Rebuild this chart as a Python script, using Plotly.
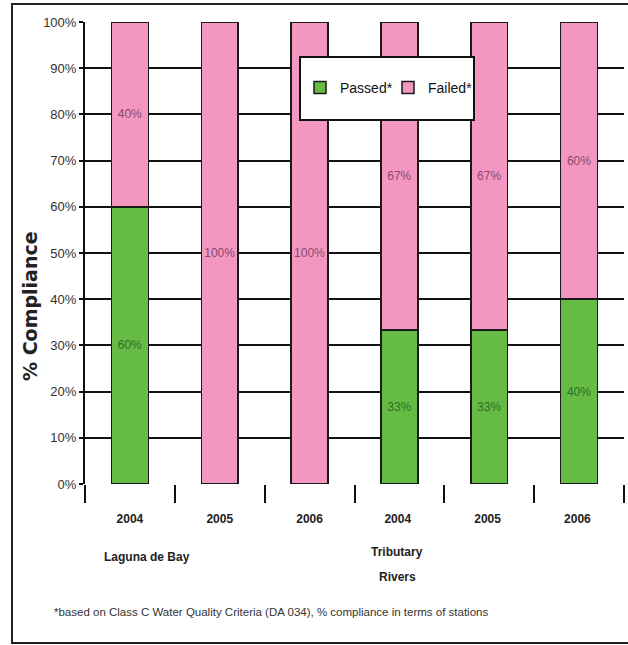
import plotly.graph_objects as go

categories = ["2004", "2005", "2006", "2004 ", "2005 ", "2006 "]
passed = [60, 0, 0, 33.3, 33.3, 40]
failed = [40, 100, 100, 66.7, 66.7, 60]
passed_labels = ["60%", "", "", "33%", "33%", "40%"]
failed_labels = ["40%", "100%", "100%", "67%", "67%", "60%"]
y_ticks = [0, 10, 20, 30, 40, 50, 60, 70, 80, 90, 100]
y_tick_labels = [f"{v}%" for v in y_ticks]

FONT = "Liberation Sans, Arial, sans-serif"

W, H = 628, 645
L, R, T, B = 85, 4, 22, 161
PW, PH = W - L - R, H - T - B


def px(x):
    return (x - L) / PW


def py(y):
    return (H - B - y) / PH


fig = go.Figure()
fig.add_trace(go.Bar(
    x=categories, y=passed, name="Passed*",
    marker=dict(color="#66BB44", line=dict(color="#1a1a1a", width=1.5)),
    text=passed_labels, textposition="inside", insidetextanchor="middle",
    constraintext="none", textangle=0,
    textfont=dict(family=FONT, size=12, color="#2f6e22"),
    width=0.41,
))
fig.add_trace(go.Bar(
    x=categories, y=failed, name="Failed*",
    marker=dict(color="#F497C0", line=dict(color="#1a1a1a", width=1.5)),
    text=failed_labels, textposition="inside", insidetextanchor="middle",
    constraintext="none", textangle=0,
    textfont=dict(family=FONT, size=12, color="#8a4a6e"),
    width=0.41,
))

fig.update_layout(
    barmode="stack",
    width=W, height=H,
    margin=dict(l=L, r=R, t=T, b=B),
    paper_bgcolor="white", plot_bgcolor="white",
    showlegend=True,
    legend=dict(orientation="h", x=px(300), y=py(88), xanchor="left", yanchor="middle",
                bgcolor="rgba(0,0,0,0)", font=dict(family=FONT, size=14, color="#111"),
                traceorder="normal", entrywidth=43, entrywidthmode="pixels"),
    xaxis=dict(
        type="category", tickson="boundaries", ticks="outside", ticklen=18, tickwidth=1.5,
        tickcolor="#111", showgrid=False, showline=False, zeroline=False,
        tickfont=dict(family=FONT, size=12, color="#222", weight="bold"),
        ticklabelstandoff=26,
    ),
    yaxis=dict(
        range=[0, 100], tickmode="array", tickvals=y_ticks, ticktext=y_tick_labels,
        ticks="outside", ticklen=4,
        tickwidth=2, tickcolor="#111", showgrid=True, gridcolor="#111", gridwidth=2,
        showline=True, linecolor="#111", linewidth=2, zeroline=False,
        tickfont=dict(family=FONT, size=13, color="#333"),
    ),
    font=dict(family=FONT),
)

# legend frame
fig.add_shape(type="rect", xref="paper", yref="paper",
              x0=px(300), x1=px(474), y0=py(120), y1=py(57),
              fillcolor="white", line=dict(color="#111", width=2), layer="above")
# outer border
fig.add_shape(type="rect", xref="paper", yref="paper",
              x0=px(12), x1=px(660), y0=py(643), y1=py(4),
              fillcolor="rgba(0,0,0,0)", line=dict(color="#222", width=2), layer="below")

fig.add_annotation(text="% Compliance", xref="paper", yref="paper", x=px(30), y=py(306),
                   xanchor="center", yanchor="middle",
                   textangle=-90, showarrow=False,
                   font=dict(family="DejaVu Sans, Liberation Sans", size=19, color="#222", weight="bold"))
fig.add_annotation(text="Laguna de Bay", xref="paper", yref="paper", x=px(147), y=py(557),
                   xanchor="center", yanchor="middle",
                   showarrow=False, font=dict(family=FONT, size=12, color="#222", weight="bold"))
fig.add_annotation(text="Tributary", xref="paper", yref="paper", x=px(397), y=py(552),
                   xanchor="center", yanchor="middle",
                   showarrow=False, font=dict(family=FONT, size=12, color="#222", weight="bold"))
fig.add_annotation(text="Rivers", xref="paper", yref="paper", x=px(397), y=py(577),
                   xanchor="center", yanchor="middle",
                   showarrow=False, font=dict(family=FONT, size=12, color="#222", weight="bold"))
fig.add_annotation(text="*based on Class C Water Quality Criteria (DA 034), % compliance in terms of stations",
                   xref="paper", yref="paper", x=px(52), y=py(612), xanchor="left", yanchor="middle",
                   showarrow=False, font=dict(family=FONT, size=11.5, color="#333"))

fig.write_html("out.html")
